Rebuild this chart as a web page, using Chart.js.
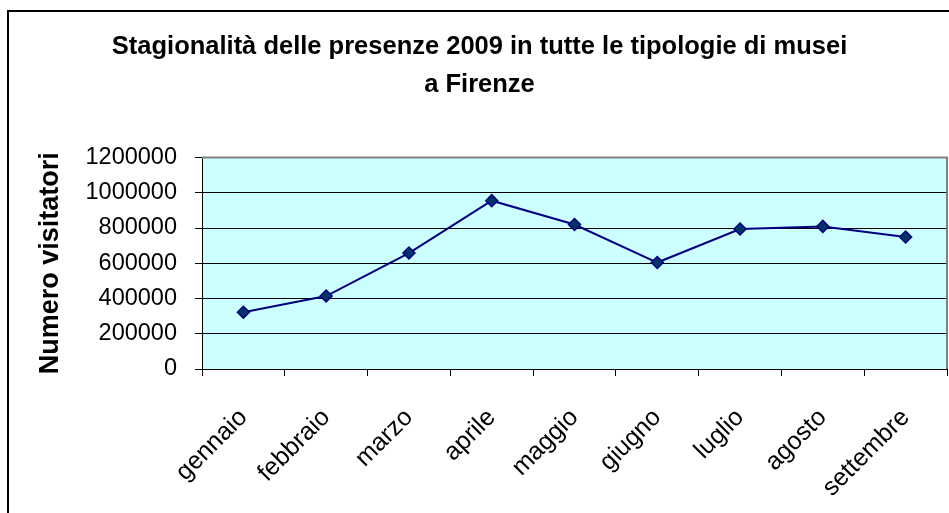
<!DOCTYPE html>
<html>
<head>
<meta charset="utf-8">
<script src="https://cdn.jsdelivr.net/npm/chart.js@4"></script>
<style>
  html, body { margin: 0; padding: 0; background: #fff; overflow: hidden; }
  #frame { position: absolute; left: 7px; top: 10px; width: 1000px; height: 600px;
           border-left: 2px solid #000; border-top: 2px solid #000; }
  #c { position: absolute; left: 0; top: 0; }
</style>
</head>
<body>
<div id="frame"></div>
<canvas id="c" width="949" height="513"></canvas>
<script>
const mesi = ['gennaio', 'febbraio', 'marzo', 'aprile', 'maggio', 'giugno', 'luglio', 'agosto', 'settembre'];
const visitatori = [322000, 414000, 658000, 955000, 820000, 604000, 794000, 809000, 749000];
const titolo = ['Stagionalità delle presenze 2009 in tutte le tipologie di musei', 'a Firenze'];
const titoloAsseY = 'Numero visitatori';

// sfondo azzurro dell'area del grafico + bordo grigio sopra e a destra
const plotArea = {
  id: 'plotArea',
  beforeDraw(chart) {
    const a = chart.chartArea, ctx = chart.ctx;
    ctx.save();
    ctx.fillStyle = '#CCFFFF';
    ctx.fillRect(a.left, a.top, a.right - a.left, a.bottom - a.top);
    ctx.restore();
  },
  afterDatasetsDraw(chart) {
    const a = chart.chartArea, ctx = chart.ctx;
    ctx.save();
    ctx.strokeStyle = '#808080';
    ctx.lineWidth = 2;
    ctx.beginPath();
    ctx.moveTo(a.left, a.top);
    ctx.lineTo(a.right, a.top);
    ctx.lineTo(a.right, a.bottom);
    ctx.stroke();
    ctx.restore();
  }
};

new Chart(document.getElementById('c').getContext('2d'), {
  type: 'line',
  data: {
    labels: mesi,
    datasets: [{
      label: 'Visitatori',
      data: visitatori,
      borderColor: '#000080',
      borderWidth: 2,
      pointStyle: 'rectRot',
      pointRadius: 6,
      pointBackgroundColor: '#003366',
      pointBorderColor: '#000080',
      pointBorderWidth: 1.5,
      tension: 0
    }]
  },
  options: {
    responsive: false,
    animation: false,
    layout: { autoPadding: false, padding: { left: 12, right: 2, top: 0, bottom: 0 } },
    plugins: {
      legend: { display: false },
      tooltip: { enabled: false },
      title: {
        display: true,
        text: titolo,
        color: '#000',
        font: { family: 'Liberation Sans, Arial', size: 25.5, weight: 'bold', lineHeight: 1.5 },
        padding: { top: 28, bottom: 53 }
      }
    },
    scales: {
      x: {
        offset: true,
        grid: { offset: true, drawOnChartArea: false, drawTicks: true, tickLength: 7, color: '#000' },
        border: { color: '#000', width: 1 },
        ticks: {
          color: '#000',
          autoSkip: false,
          maxRotation: 45,
          minRotation: 45,
          padding: 27,
          font: { family: 'Liberation Sans, Arial', size: 25 }
        },
        afterFit(scale) {
          scale.height = 144;
          scale.paddingLeft = 0;
          scale.paddingRight = 0;
        }
      },
      y: {
        min: 0,
        max: 1200000,
        ticks: {
          stepSize: 200000,
          color: '#000',
          padding: 18,
          font: { family: 'Liberation Sans, Arial', size: 23.5 },
          callback: v => String(v)
        },
        grid: { color: '#000', tickLength: 7 },
        border: { color: '#000', width: 1 },
        title: {
          display: true,
          text: titoloAsseY,
          color: '#000',
          font: { family: 'Liberation Sans, Arial', size: 27, weight: 'bold' },
          padding: { top: 22, bottom: 0 }
        },
        afterFit(scale) { scale.width = 190; }
      }
    }
  },
  plugins: [plotArea]
});
</script>
</body>
</html>
